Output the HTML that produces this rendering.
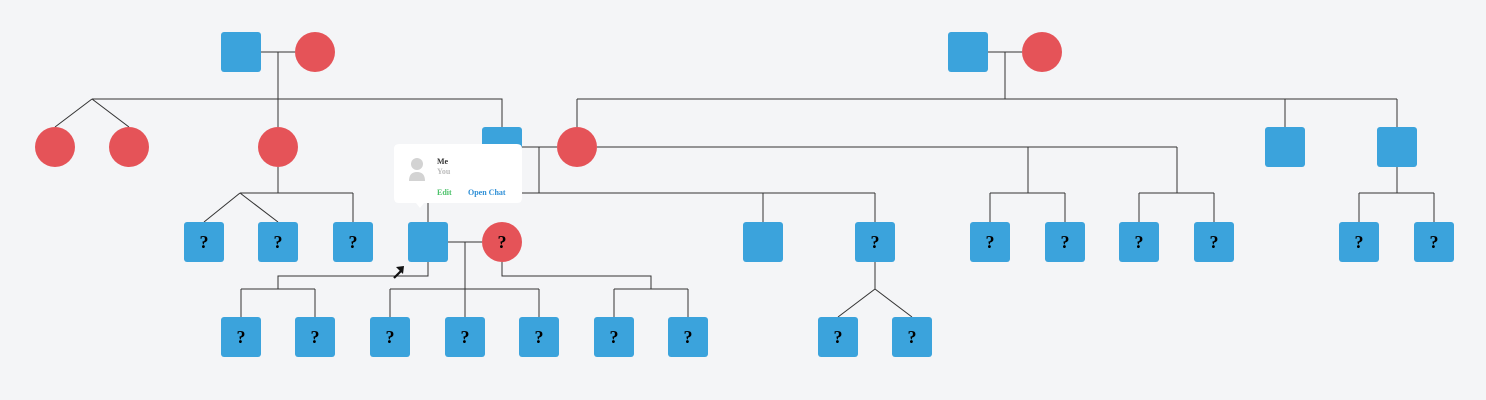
<!DOCTYPE html>
<html><head><meta charset="utf-8"><style>
html,body{margin:0;padding:0;background:#f4f5f7;}
svg{display:block}
.q{font-family:"Liberation Serif",serif;font-weight:bold;font-size:18px;fill:#000;text-anchor:middle}
</style></head><body>
<svg width="1486" height="400" viewBox="0 0 1486 400" xmlns="http://www.w3.org/2000/svg">
<g stroke="#333" stroke-width="1" fill="none">
<path d="M261 52H295M278 52V127M92 99H502V127M92 99L55 127M92 99L129 127"/>
<path d="M988 52H1022M1005 52V99M577 99H1397M577 99V127M1285 99V127M1397 99V127"/>
<path d="M522 147H557M539 147V193M428 193H875M428 193V222M763 193V222M875 193V222"/>
<path d="M597 147H1177M1028 147V193M1177 147V193M990 193H1065M990 193V222M1065 193V222M1139 193H1214M1139 193V222M1214 193V222"/>
<path d="M1397 167V193M1359 193H1434M1359 193V222M1434 193V222"/>
<path d="M278 167V193M240 193H353M240 193L204 222M240 193L278 222M353 193V222"/>
<path d="M448 242H482M465 242V317M390 289H539M390 289V317M539 289V317"/>
<path d="M428 262V276H278V289M241 289H315M241 289V317M315 289V317"/>
<path d="M502 262V276H651V289M614 289H688M614 289V317M688 289V317"/>
<path d="M875 262V289L838 317M875 289L912 317"/>
</g>
<g fill="#3ba3dc">
<rect x="221" y="32" width="40" height="40" rx="3"/>
<rect x="948" y="32" width="40" height="40" rx="3"/>
<rect x="482" y="127" width="40" height="40" rx="3"/>
<rect x="1265" y="127" width="40" height="40" rx="3"/>
<rect x="1377" y="127" width="40" height="40" rx="3"/>
<rect x="184" y="222" width="40" height="40" rx="3"/>
<rect x="258" y="222" width="40" height="40" rx="3"/>
<rect x="333" y="222" width="40" height="40" rx="3"/>
<rect x="408" y="222" width="40" height="40" rx="3"/>
<rect x="743" y="222" width="40" height="40" rx="3"/>
<rect x="855" y="222" width="40" height="40" rx="3"/>
<rect x="970" y="222" width="40" height="40" rx="3"/>
<rect x="1045" y="222" width="40" height="40" rx="3"/>
<rect x="1119" y="222" width="40" height="40" rx="3"/>
<rect x="1194" y="222" width="40" height="40" rx="3"/>
<rect x="1339" y="222" width="40" height="40" rx="3"/>
<rect x="1414" y="222" width="40" height="40" rx="3"/>
<rect x="221" y="317" width="40" height="40" rx="3"/>
<rect x="295" y="317" width="40" height="40" rx="3"/>
<rect x="370" y="317" width="40" height="40" rx="3"/>
<rect x="445" y="317" width="40" height="40" rx="3"/>
<rect x="519" y="317" width="40" height="40" rx="3"/>
<rect x="594" y="317" width="40" height="40" rx="3"/>
<rect x="668" y="317" width="40" height="40" rx="3"/>
<rect x="818" y="317" width="40" height="40" rx="3"/>
<rect x="892" y="317" width="40" height="40" rx="3"/>
</g>
<g fill="#e55358">
<circle cx="315" cy="52" r="20"/>
<circle cx="1042" cy="52" r="20"/>
<circle cx="55" cy="147" r="20"/>
<circle cx="129" cy="147" r="20"/>
<circle cx="278" cy="147" r="20"/>
<circle cx="577" cy="147" r="20"/>
<circle cx="502" cy="242" r="20"/>
</g>
<g class="q">
<text x="204" y="248">?</text><text x="278" y="248">?</text><text x="353" y="248">?</text>
<text x="502" y="248">?</text><text x="875" y="248">?</text>
<text x="990" y="248">?</text><text x="1065" y="248">?</text><text x="1139" y="248">?</text><text x="1214" y="248">?</text>
<text x="1359" y="248">?</text><text x="1434" y="248">?</text>
<text x="241" y="343">?</text><text x="315" y="343">?</text><text x="390" y="343">?</text><text x="465" y="343">?</text>
<text x="539" y="343">?</text><text x="614" y="343">?</text><text x="688" y="343">?</text>
<text x="838" y="343">?</text><text x="912" y="343">?</text>
</g>
<path d="M394 278L401 271" stroke="#111" stroke-width="2.2"/>
<path d="M396 267L404 266L403 274Z" fill="#111"/>
<path d="M399 144H517Q522 144 522 149V198Q522 203 517 203H424L420 208L416 203H399Q394 203 394 198V149Q394 144 399 144Z" fill="#fff"/>
<circle cx="417" cy="164" r="6" fill="#d3d3d3"/>
<path d="M409 181Q409 172 417 172Q425 172 425 181Z" fill="#d3d3d3"/>
<text x="437" y="164" font-family="Liberation Serif,serif" font-weight="bold" font-size="8" fill="#333">Me</text>
<text x="437" y="174" font-family="Liberation Serif,serif" font-weight="bold" font-size="8" fill="#bbb">You</text>
<text x="437" y="195" font-family="Liberation Serif,serif" font-weight="bold" font-size="8" fill="#4cc26a">Edit</text>
<text x="468" y="195" font-family="Liberation Serif,serif" font-weight="bold" font-size="8" fill="#2e8fd6">Open Chat</text>
</svg>
</body></html>
